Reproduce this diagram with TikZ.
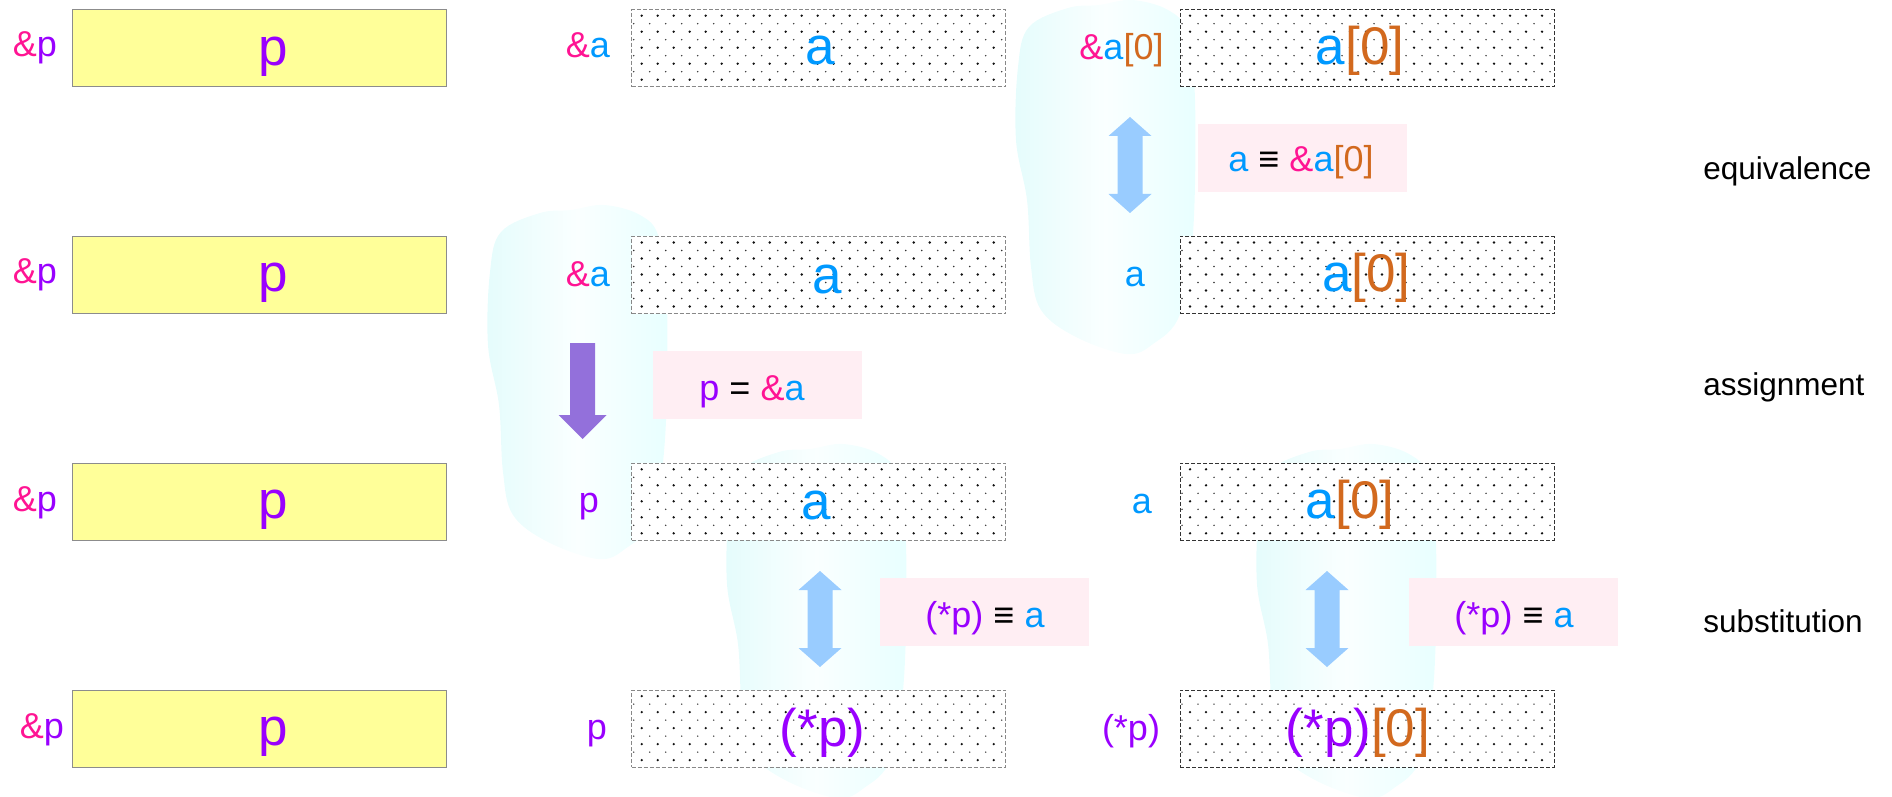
\documentclass[tikz,border=0pt]{standalone}
\usepackage{fontspec}
\setmainfont{Liberation Sans}
\usetikzlibrary{calc}
\definecolor{cPink}{HTML}{FF1493}
\definecolor{cBlue}{HTML}{0099FF}
\definecolor{cPurp}{HTML}{9900FF}
\definecolor{cOrng}{HTML}{D2691E}
\definecolor{cYel}{HTML}{FFFF99}
\definecolor{cYelB}{HTML}{8C8C8C}
\definecolor{cLab}{HTML}{FFEEF3}
\definecolor{cArr}{HTML}{99CCFF}
\definecolor{cDown}{HTML}{9370DB}
\definecolor{cBlobE}{HTML}{E5FCFC}
\definecolor{cBlobR}{HTML}{E8FFFF}
\definecolor{cBlobM}{HTML}{FAFFFF}
\definecolor{cDot}{HTML}{111111}
\definecolor{cDotS}{HTML}{333333}
\definecolor{cBrdA}{HTML}{888888}
\definecolor{cBrdB}{HTML}{333333}

\newcommand\tAmp{\textcolor{cPink}{\&}}
\newcommand\tA{\textcolor{cBlue}{a}}
\newcommand\tP{\textcolor{cPurp}{p}}
\newcommand\tZ{\textcolor{cOrng}{[0]}}
\newcommand\tS{\textcolor{cPurp}{(*p)}}

\newcommand\mydotgrid{%
  \coordinate (dnw) at (path picture bounding box.north west);
  \foreach \i in {0,...,22}{\foreach \j in {0,...,4}{\fill[cDot] ($(dnw)+(10+16*\i,6+16*\j)$) circle (0.65pt);}}
  \foreach \i in {-1,...,22}{\foreach \j in {0,...,3}{\fill[cDotS] ($(dnw)+(18+16*\i,14+16*\j)$) circle (0.4pt);}}}

\newcommand\myblob[1]{\shade[blob, shift={#1}] plot[smooth cycle, tension=0.6] coordinates {(118,0) (154,10) (173,33) (181,100) (179,234) (166,314) (139,344) (112,354) (62,337) (27,310) (17,267) (13,200) (2,140) (4,67) (15,27) (54,8) (85,5)};}

\newcommand\dblarr[2]{\fill[cArr] (#1) -- ($(#1)+(21.5,19)$) -- ($(#1)+(12.5,19)$) -- ($(#2)+(12.5,-19)$) -- ($(#2)+(21.5,-19)$) -- (#2) -- ($(#2)+(-21.5,-19)$) -- ($(#2)+(-12.5,-19)$) -- ($(#1)+(-12.5,19)$) -- ($(#1)+(-21.5,19)$) -- cycle;}

\newcommand\downarr[2]{\fill[cDown] ($(#1)+(-12.5,0)$) -- ($(#1)+(12.5,0)$) -- ($(#2)+(12.5,-24)$) -- ($(#2)+(24,-24)$) -- (#2) -- ($(#2)+(-24,-24)$) -- ($(#2)+(-12.5,-24)$) -- cycle;}

\tikzset{
  big/.style={font=\fontsize{26.5}{30}\selectfont, anchor=base, inner sep=0pt},
  lab/.style={font=\fontsize{18}{21}\selectfont, anchor=base, inner sep=0pt},
  side/.style={font=\fontsize{15.75}{18}\selectfont, anchor=base west, inner sep=0pt},
  ybox/.style={draw=cYelB, line width=0.5pt, fill=cYel, minimum width=187pt, minimum height=38.5pt, inner sep=0pt},
  dbox/.style={draw=#1, line width=0.5pt, dash pattern=on 2pt off 1pt, fill=white, minimum width=187pt, minimum height=38.5pt, inner sep=0pt, path picture={\mydotgrid}},
  pbox/.style={fill=cLab, minimum width=104.5pt, minimum height=34pt, inner sep=0pt},
  blob/.style={left color=cBlobE, right color=cBlobR, middle color=cBlobM}
}

\begin{document}
\begin{tikzpicture}[x=0.5pt, y=-0.5pt]
\useasboundingbox (0,0) rectangle (1892,797);

% blobs
\myblob{(486,205)}
\myblob{(1014,0)}
\myblob{(725,444)}
\myblob{(1255,444)}

% yellow boxes
\node[ybox] (y1) at (259.5,48.2) {};
\node[ybox] (y2) at (259.5,275) {};
\node[ybox] (y3) at (259.5,501.8) {};
\node[ybox] (y4) at (259.5,728.6) {};

% dotted boxes
\node[dbox=cBrdA] (a1) at (818.7,48.2) {};
\node[dbox=cBrdA] (a2) at (818.7,275) {};
\node[dbox=cBrdA] (a3) at (818.7,501.8) {};
\node[dbox=cBrdA] (a4) at (818.7,728.6) {};
\node[dbox=cBrdB] (b1) at (1367,48.2) {};
\node[dbox=cBrdB] (b2) at (1367,275) {};
\node[dbox=cBrdB] (b3) at (1367,501.8) {};
\node[dbox=cBrdB] (b4) at (1367,728.6) {};

% box contents
\node[big] (y1t) at (273,65.2) {\tP};
\node[big] (y2t) at (273,292) {\tP};
\node[big] (y3t) at (273,518.8) {\tP};
\node[big] (y4t) at (273,745.6) {\tP};
\node[big] (a1t) at (820,65) {\tA};
\node[big] (a2t) at (827.5,293) {\tA};
\node[big] (a3t) at (816,519) {\tA};
\node[big] (a4t) at (822.5,746) {\tS};
\node[big] (b1t) at (1360,65) {\tA\tZ};
\node[big] (b2t) at (1366.5,292) {\tA\tZ};
\node[big] (b3t) at (1350,518) {\tA\tZ};
\node[big] (b4t) at (1358,746) {\tS\tZ};

% left labels
\node[lab] (ly1) at (35,57) {\tAmp\tP};
\node[lab] (ly2) at (35,284) {\tAmp\tP};
\node[lab] (ly3) at (35,511) {\tAmp\tP};
\node[lab] (ly4) at (42,738) {\tAmp\tP};
\node[lab] (la1) at (588,58) {\tAmp\tA};
\node[lab] (la2) at (588,286) {\tAmp\tA};
\node[lab] (la3) at (589,512) {\tP};
\node[lab] (la4) at (597,739) {\tP};
\node[lab] (lb1) at (1121.5,60) {\tAmp\tA\tZ};
\node[lab] (lb2) at (1135,286) {\tA};
\node[lab] (lb3) at (1142,513) {\tA};
\node[lab] (lb4) at (1131,740) {\tS};

% pink relation labels
\node[pbox] (eqb) at (1302.5,158) {};
\node[lab] (eqt) at (1301,172) {\tA{} ≡ \tAmp\tA\tZ};
\node[pbox] (asb) at (757.5,384.5) {};
\node[lab] (ast) at (752,400) {\tP{} = \tAmp\tA};
\node[pbox] (s1b) at (984.5,612) {};
\node[lab] (s1t) at (985,627) {\tS{} ≡ \tA};
\node[pbox] (s2b) at (1513,612) {};
\node[lab] (s2t) at (1514,627) {\tS{} ≡ \tA};

% right side labels
\node[side] (seq) at (1703,180) {equivalence};
\node[side] (sas) at (1703,395) {assignment};
\node[side] (ssu) at (1703,632) {substitution};

% arrows
\coordinate (eqT) at (1130,117);
\coordinate (eqB) at (1130,213);
\coordinate (s1T) at (820,571);
\coordinate (s1B) at (820,667);
\coordinate (s2T) at (1327,571);
\coordinate (s2B) at (1327,667);
\coordinate (asT) at (582.5,343);
\coordinate (asB) at (582.5,439);
\dblarr{eqT}{eqB}
\dblarr{s1T}{s1B}
\dblarr{s2T}{s2B}
\downarr{asT}{asB}
\end{tikzpicture}
\end{document}
